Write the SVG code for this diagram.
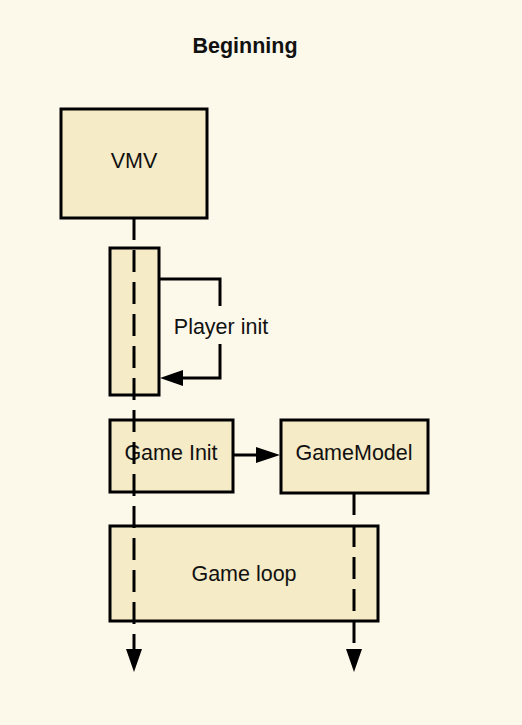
<svg xmlns="http://www.w3.org/2000/svg" width="522" height="725" viewBox="0 0 522 725">
<defs>
<style>
.box{fill:#f5ebc6;stroke:#000;stroke-width:3}
.t{font-family:"Liberation Sans",Arial,sans-serif;font-size:21.5px;fill:#111;text-anchor:middle}
.life{stroke:#000;stroke-width:3;stroke-dasharray:22 10;fill:none}
.ln{stroke:#000;stroke-width:3;fill:none}
</style>
</defs>
<rect width="522" height="725" fill="#fcf8ea"/>
<text x="245" y="53" class="t" style="font-weight:bold">Beginning</text>
<g id="vmv"><rect class="box" x="61" y="109" width="146" height="109"/><text class="t" x="134" y="168">VMV</text></g>
<g id="activation"><rect class="box" x="110" y="248" width="49" height="147"/></g>
<g id="gameinit"><rect class="box" x="110" y="420" width="123" height="72"/><text class="t" x="171" y="460">Game Init</text></g>
<g id="gamemodel"><rect class="box" x="281" y="420" width="147" height="73"/><text class="t" x="354" y="460">GameModel</text></g>
<g id="gameloop"><rect class="box" x="110" y="526" width="268" height="95"/><text class="t" x="244" y="581">Game loop</text></g>
<g id="connectors">
<path class="life" d="M134,218V650" />
<path d="M126,649L142,649L134,672z" fill="#000"/>
<path class="life" d="M354,493V650" />
<path d="M346,649L362,649L354,672z" fill="#000"/>
<path class="ln" d="M159,279H220V306M220,344V378H182"/>
<path d="M183,370L160,378L183,386z" fill="#000"/>
<text class="t" x="221" y="334">Player init</text>
<path class="ln" d="M233,455H258"/>
<path d="M256,447L280,455L256,463z" fill="#000"/>
</g>
</svg>
